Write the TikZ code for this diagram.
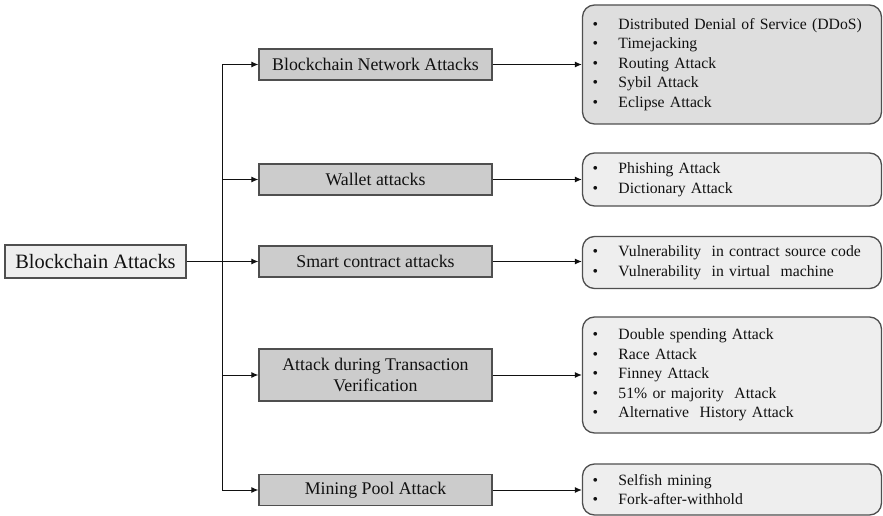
\documentclass[tikz,border=0pt]{standalone}
\usepackage{fontspec}
\setmainfont{Liberation Serif}
\usetikzlibrary{arrows.meta, positioning}
\definecolor{cline}{HTML}{4F4F4F}
\definecolor{cmid}{HTML}{CCCCCC}
\definecolor{clight}{HTML}{EEEEEE}
\definecolor{cdark}{HTML}{DEDEDE}
\definecolor{ctext}{HTML}{111111}
\tikzset{
  every picture/.style={line width=1pt},
  rootbox/.style={draw=cline, fill=clight, line width=1.3pt, minimum width=181pt, minimum height=33pt,
    inner sep=0pt, text=ctext, font=\fontsize{20.4}{23}\selectfont},
  midbox/.style={draw=cline, fill=cmid, line width=1.3pt, minimum width=233pt, minimum height=31pt,
    inner sep=0pt, align=center, text=ctext, font=\fontsize{17.8}{21.5}\selectfont},
  listbox/.style={draw=cline, fill=#1, line width=1.3pt, rounded corners=12pt, text width=279pt,
    inner xsep=10pt, inner ysep=0pt, align=left, text=ctext, font=\fontsize{15.7}{19.5}\selectfont},
  listbox/.default=clight,
  arrow/.style={-{Latex[length=7pt, width=6pt]}, draw=ctext, line width=1pt},
}
\newcommand{\itm}[1]{\makebox[26pt][l]{\textbullet}#1}

\begin{document}
\begin{tikzpicture}[x=1pt, y=-1pt]
  \useasboundingbox (0,0) rectangle (883,516);
  % root and trunk
  \node[rootbox] (root) at (95.5,261.5) {Blockchain Attacks};
  \coordinate (trunk) at (222.5,261.5);
  % middle column
  \node[midbox] (net) at (375.5,64.5) {Blockchain Network Attacks};
  \node[midbox] (wallet) at (375.5,179.5) {Wallet attacks};
  \node[midbox] (smart) at (375.5,261.5) {Smart contract attacks};
  \node[midbox, minimum height=52pt] (trans) at (375.5,375) {Attack during Transaction\\ Verification};
  \node[midbox] (pool) at (375.5,490) {Mining Pool Attack};
  % right column
  \node[listbox=cdark, minimum height=119pt] (netL) at (732,64.5) {%
    \itm{Distributed Denial of Service (DDoS)}\\ \itm{Timejacking}\\ \itm{Routing Attack}\\
    \itm{Sybil Attack}\\ \itm{Eclipse Attack}};
  \node[listbox, minimum height=53pt] (walletL) at (732,179.5) {%
    \itm{Phishing Attack}\\ \itm{Dictionary Attack}};
  \node[listbox, minimum height=52pt] (smartL) at (732,262.5) {%
    \itm{Vulnerability\ \ in contract source code}\\ \itm{Vulnerability\ \ in virtual\ \ machine}};
  \node[listbox, minimum height=116pt] (transL) at (732,375) {%
    \itm{Double spending Attack}\\ \itm{Race Attack}\\ \itm{Finney Attack}\\
    \itm{51\% or majority\ \ Attack}\\ \itm{Alternative\ \ History Attack}};
  \node[listbox, minimum height=51pt] (poolL) at (732,489.5) {%
    \itm{Selfish mining}\\ \itm{Fork-after-withhold}};
  % connectors
  \draw[arrow] (root) -- (smart);
  \foreach \m in {net, wallet, trans, pool}
    \draw[arrow] (trunk) |- (\m.west);
  \draw[arrow] (net) -- (netL);
  \draw[arrow] (wallet) -- (walletL);
  \draw[arrow] (smart.east) -- (smart.east -| smartL.west);
  \draw[arrow] (trans) -- (transL);
  \draw[arrow] (pool.east) -- (pool.east -| poolL.west);
\end{tikzpicture}
\end{document}
